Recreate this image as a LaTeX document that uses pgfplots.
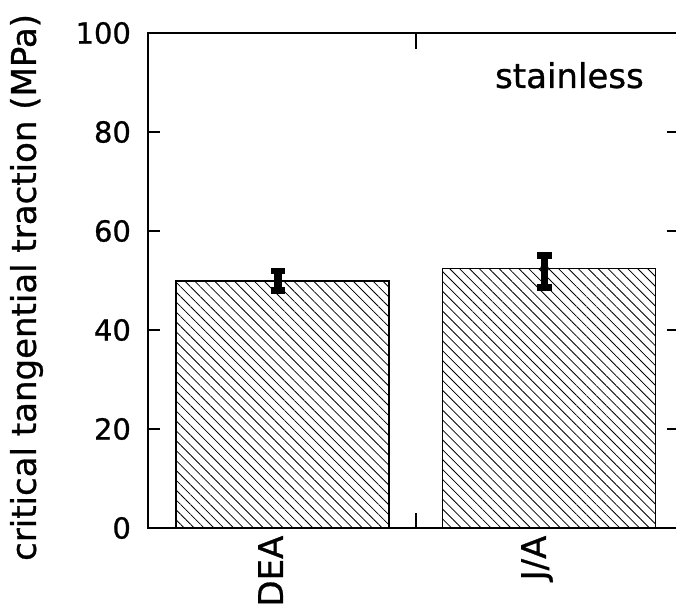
\documentclass[border=0pt]{standalone}
\usepackage{fontspec}
\setmainfont[FakeBold=0.8]{DejaVu Sans}
\usepackage{pgfplots}
\pgfplotsset{compat=1.18}
\usetikzlibrary{patterns.meta}
\begin{document}
\begin{tikzpicture}
\begin{axis}[
  scale only axis, width=265.5pt, height=247.5pt,
  xmin=-0.505, xmax=1.488, ymin=0, ymax=100,
  axis line style={line width=1.3pt},
  xtick={0,1}, xticklabels={DEA,J/A},
  major x tick style={draw=none},
  ytick={0,20,40,60,80,100},
  major tick length=6pt,
  ytick style={line width=1pt, black},
  tick align=inside,
  /pgf/number format/assume math mode=true,
  yticklabel style={font=\fontsize{14.5}{17}\selectfont, xshift=-5pt},
  xticklabel style={font=\fontsize{17}{20}\selectfont, xshift=-6pt, yshift=-0.3pt, rotate=90, anchor=east},
  ylabel={critical tangential traction (MPa)},
  every axis y label/.style={at={(rel axis cs:0,0.5)}, xshift=-60.75pt, yshift=-3.5pt, rotate=90, anchor=center, font=\fontsize{17}{20}\selectfont},
  clip=false,
]
\addplot[ybar, bar width=0.8, draw=black, line width=0.7pt,
  pattern={Lines[angle=-45,distance=3.5pt,line width=0.4pt]}]
  coordinates {(0,49.9) (1,52.4)};
\addplot[only marks, mark=none, black,
  error bars/.cd, y dir=both, y explicit,
  error bar style={line width=3.6pt, black},
  error mark options={rotate=90, line width=3.4pt, mark size=3.6pt, black}]
  coordinates {(-0.017,49.9) += (0,2.0) -= (0,2.0) (0.983,52.4) += (0,2.6) -= (0,3.8)};
\draw[line width=1pt] (axis cs:0.5,0) -- ([yshift=7.5pt]axis cs:0.5,0);
\draw[line width=1pt] (axis cs:0.5,100) -- ([yshift=-8pt]axis cs:0.5,100);
\node[anchor=base east, font=\fontsize{17}{20}\selectfont] at (rel axis cs:0.947,0.889) {stainless};
\coordinate (O) at (rel axis cs:0,0);
\end{axis}
\pgfresetboundingbox
\path[use as bounding box] ([xshift=-74pt,yshift=-41.5pt]O) rectangle ([xshift=264pt,yshift=264pt]O);
\end{tikzpicture}
\end{document}
